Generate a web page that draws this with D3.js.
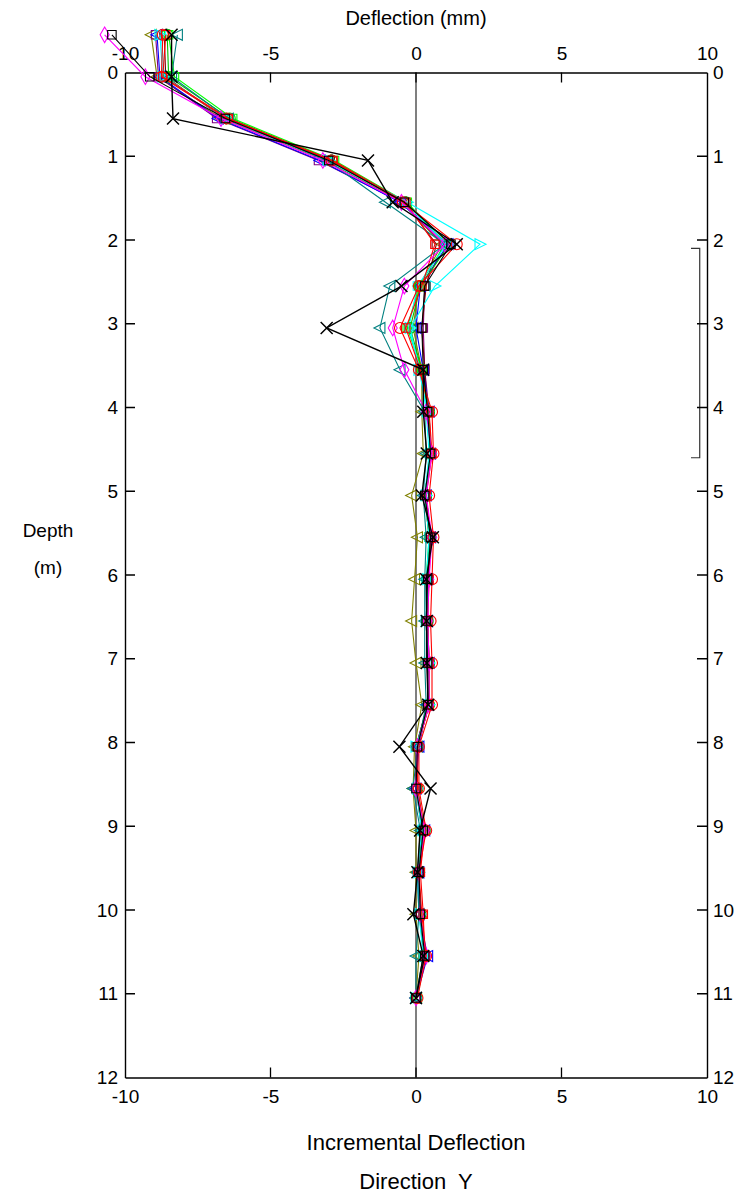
<!DOCTYPE html>
<html>
<head>
<meta charset="utf-8">
<script src="https://cdn.jsdelivr.net/npm/d3@7/dist/d3.min.js"></script>
<style>
  html, body { margin: 0; padding: 0; background: #fff; }
  svg { display: block; }
  text { font-family: "Liberation Sans", Arial, Helvetica, sans-serif; fill: #000; }
</style>
</head>
<body>
<svg id="chart" width="753" height="1198"></svg>
<script>
// ---- data ----
const depths = [-0.45, 0.05, 0.55, 1.05, 1.55, 2.05, 2.55, 3.05, 3.55, 4.05, 4.55, 5.05,
                5.55, 6.05, 6.55, 7.05, 7.55, 8.05, 8.55, 9.05, 9.55, 10.05, 10.55, 11.05];

const xTicks = [-10, -5, 0, 5, 10];
const yTicks = [0, 1, 2, 3, 4, 5, 6, 7, 8, 9, 10, 11, 12];

const redCircle   = [-8.7, -8.75, -6.5, -2.9, -0.45, 1.4, 0.1, -0.55, 0.1, 0.55, 0.6, 0.45, 0.6, 0.55, 0.5, 0.55, 0.55, 0.1, 0.1, 0.35, 0.1, 0.2, 0.35, 0.05];
const redSquare   = [-8.6, -8.7, -6.45, -2.85, -0.35, 0.65, 0.2, -0.35, 0.15, 0.45, 0.55, 0.35, 0.5, 0.45, 0.4, 0.45, 0.45, 0.05, 0.05, 0.3, 0.15, 0.25, 0.3, 0.0];
const maroonSq    = [-8.65, -8.6, -6.6, -2.95, -0.4, 0.7, 0.35, 0.2, 0.3, 0.4, 0.5, 0.3, 0.45, 0.4, 0.35, 0.4, 0.4, 0.0, 0.0, 0.2, 0.1, 0.15, 0.25, 0.0];
const greenSq     = [-8.5, -8.3, -6.3, -2.8, -0.3, 1.0, 0.1, -0.3, 0.2, 0.4, 0.5, 0.3, 0.45, 0.35, 0.4, 0.4, 0.45, 0.05, 0.05, 0.25, 0.1, 0.15, 0.3, 0.05];
const cyanSq      = [-8.75, -8.65, -6.55, -3.05, -0.4, 1.05, 0.05, -0.25, 0.15, 0.35, 0.45, 0.3, 0.45, 0.35, 0.35, 0.4, 0.4, 0.05, 0.0, 0.2, 0.05, 0.1, 0.25, 0.0];
const greenCircle = [-8.55, -8.5, -6.4, -2.9, -0.35, 1.15, 0.15, -0.2, 0.2, 0.45, 0.5, 0.35, 0.5, 0.4, 0.4, 0.45, 0.45, 0.05, 0.05, 0.3, 0.1, 0.15, 0.3, 0.0];
const blueTri     = [-8.9, -8.8, -6.8, -3.3, -0.55, 1.1, 0.15, 0.0, 0.25, 0.45, 0.5, 0.35, 0.5, 0.4, 0.4, 0.45, 0.4, 0.1, 0.0, 0.3, 0.1, 0.1, 0.4, 0.0];
const cyanTri     = [-8.8, -8.7, -6.5, -3.0, -0.3, 2.2, 0.65, -0.2, 0.1, 0.4, 0.5, 0.35, 0.5, 0.4, 0.35, 0.45, 0.45, 0.0, 0.05, 0.25, 0.1, 0.15, 0.3, 0.0];
const magentaDia  = [-10.7, -9.3, -6.7, -3.2, -0.5, 1.0, -0.4, -0.8, -0.4, 0.35, 0.55, 0.35, 0.55, 0.45, 0.4, 0.45, 0.45, 0.05, 0.0, 0.3, 0.1, 0.15, 0.35, 0.0];
const oliveTri    = [-9.1, -8.9, -6.7, -3.1, -0.5, 0.9, 0.1, -0.1, 0.2, 0.2, 0.25, -0.15, 0.05, -0.05, -0.15, 0.0, 0.2, -0.05, -0.1, 0.0, 0.0, 0.0, 0.1, 0.0];
const tealTri     = [-8.2, -8.4, -6.45, -3.05, -1.05, 1.0, -0.9, -1.24, -0.55, 0.3, 0.35, 0.25, 0.35, 0.3, 0.3, 0.3, 0.35, 0.05, -0.1, 0.15, 0.05, 0.1, 0.0, 0.0];
const purpleSq    = [-8.95, -8.85, -6.85, -3.35, -0.5, 0.95, 0.3, 0.25, 0.3, 0.45, 0.5, 0.3, 0.5, 0.4, 0.35, 0.4, 0.4, 0.0, 0.0, 0.25, 0.05, 0.1, 0.3, 0.0];
const blackSq     = [-10.45, -9.15, -6.55, -3.0, -0.4, 1.2, 0.3, 0.2, 0.25, 0.4, 0.5, 0.3, 0.5, 0.4, 0.35, 0.4, 0.4, 0.05, 0.0, 0.25, 0.1, 0.15, 0.3, 0.0];
const blackX      = [-8.4, -8.4, -8.35, -1.65, -0.8, 1.4, -0.5, -3.07, 0.25, 0.25, 0.37, 0.2, 0.58, 0.35, 0.37, 0.37, 0.42, -0.57, 0.5, 0.14, 0.05, -0.09, 0.25, 0.0];

const series = [
  { values: oliveTri,    color: "#808000", marker: "triL" },
  { values: purpleSq,    color: "#800080", marker: "square" },
  { values: maroonSq,    color: "#800000", marker: "square" },
  { values: blueTri,     color: "#0000ff", marker: "triL" },
  { values: greenSq,     color: "#00ff00", marker: "square" },
  { values: cyanSq,      color: "#00ffff", marker: "square" },
  { values: greenCircle, color: "#00c000", marker: "circle" },
  { values: cyanTri,     color: "#00ffff", marker: "triR" },
  { values: tealTri,     color: "#008080", marker: "triL" },
  { values: redSquare,   color: "#ff0000", marker: "square" },
  { values: magentaDia,  color: "#ff00ff", marker: "diamond" },
  { values: redCircle,   color: "#ff0000", marker: "circle" },
  { values: blackSq,     color: "#000000", marker: "square" },
  { values: blackX,      color: "#000000", marker: "x" }
];

// ---- layout ----
const svg = d3.select("#chart");
const x = d3.scaleLinear().domain([-10, 10]).range([125, 707]);
const y = d3.scaleLinear().domain([0, 12]).range([72.5, 1077.5]);

// zero line
svg.append("line")
  .attr("x1", x(0)).attr("x2", x(0))
  .attr("y1", y(0)).attr("y2", y(12))
  .attr("stroke", "#555").attr("stroke-width", 1.5);

// bracket on right
const br = [2.1, 4.6];
svg.append("path")
  .attr("d", `M${x(9.45)},${y(br[0])}H${x(9.75)}V${y(br[1])}H${x(9.45)}`)
  .attr("fill", "none").attr("stroke", "#333").attr("stroke-width", 1.2);

// axes (labels + frame)
const tickLen = 10;
const fmt = d => String(d);
const axTop = svg.append("g").attr("transform", `translate(0,${y(0)})`)
  .call(d3.axisTop(x).tickValues(xTicks).tickFormat(fmt).tickSize(0).tickPadding(12.5));
const axBot = svg.append("g").attr("transform", `translate(0,${y(12)})`)
  .call(d3.axisBottom(x).tickValues(xTicks).tickFormat(fmt).tickSize(0).tickPadding(12));
const axLeft = svg.append("g").attr("transform", `translate(${x(-10)},0)`)
  .call(d3.axisLeft(y).tickValues(yTicks).tickFormat(fmt).tickSize(0).tickPadding(7));
const axRight = svg.append("g").attr("transform", `translate(${x(10)},0)`)
  .call(d3.axisRight(y).tickValues(yTicks).tickFormat(fmt).tickSize(0).tickPadding(6));

[axTop, axBot, axLeft, axRight].forEach(a => {
  a.select(".domain").attr("stroke", "#000").attr("stroke-width", 1.4);
  a.selectAll(".tick line").remove();
  a.selectAll(".tick text").attr("font-size", 19).attr("font-family", "Liberation Sans, Arial, sans-serif").attr("fill", "#000");
});

// inward tick marks
let tickD = "";
xTicks.filter(v => v > -10 && v < 10).forEach(v => {
  tickD += `M${x(v)},${y(0)}v${tickLen}`;
  tickD += `M${x(v)},${y(12)}v${-tickLen}`;
});
yTicks.filter(v => v > 0 && v < 12).forEach(v => {
  tickD += `M${x(-10)},${y(v)}h${tickLen}`;
  tickD += `M${x(10)},${y(v)}h${-tickLen}`;
});
svg.append("path").attr("d", tickD)
  .attr("fill", "none").attr("stroke", "#000").attr("stroke-width", 1.3);

// titles
svg.append("text").attr("x", x(0)).attr("y", 25).attr("text-anchor", "middle")
  .attr("font-size", 20).text("Deflection (mm)");
svg.append("text").attr("x", 48).attr("y", 537).attr("text-anchor", "middle")
  .attr("font-size", 19).text("Depth");
svg.append("text").attr("x", 48).attr("y", 574).attr("text-anchor", "middle")
  .attr("font-size", 19).text("(m)");
svg.append("text").attr("x", x(0)).attr("y", 1150).attr("text-anchor", "middle")
  .attr("font-size", 22).text("Incremental Deflection");
svg.append("text").attr("x", x(0)).attr("y", 1189).attr("text-anchor", "middle")
  .attr("font-size", 22).style("white-space", "pre").text("Direction  Y");

// markers
function markerPath(type) {
  switch (type) {
    case "circle":  return d3.symbol(d3.symbolCircle, 95)();
    case "square":  return d3.symbol(d3.symbolSquare, 72)();
    case "diamond": return d3.symbol(d3.symbolDiamond, 70)();
    case "triL":    return "M-6,0L5,-5.5L5,5.5Z";
    case "triR":    return "M6,0L-5,-5.5L-5,5.5Z";
    case "x":       return "M-6,-6L6,6M-6,6L6,-6";
  }
}

const lineGen = d3.line().x(d => x(d[1])).y(d => y(d[0]));

series.forEach(s => {
  const pts = depths.map((d, i) => [d, s.values[i]]);
  const g = svg.append("g");
  g.append("path").attr("d", lineGen(pts))
    .attr("fill", "none").attr("stroke", s.color)
    .attr("stroke-width", s.marker === "x" ? 1.4 : 1.1);
  g.selectAll("path.m").data(pts).enter().append("path")
    .attr("class", "m")
    .attr("transform", d => `translate(${x(d[1])},${y(d[0])})`)
    .attr("d", markerPath(s.marker))
    .attr("fill", "none").attr("stroke", s.color)
    .attr("stroke-width", s.marker === "x" ? 1.5 : 1.1);
});
</script>
</body>
</html>
